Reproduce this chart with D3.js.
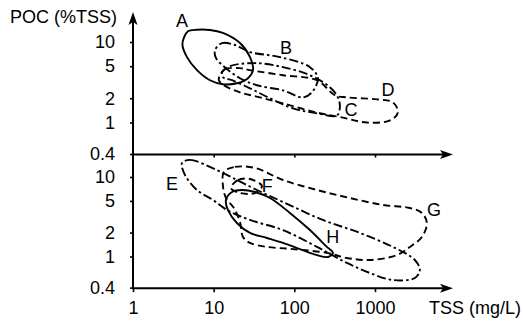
<!DOCTYPE html>
<html>
<head>
<meta charset="utf-8">
<script src="https://cdn.jsdelivr.net/npm/d3@7"></script>
<style>
  html, body { margin: 0; padding: 0; background: #fff; }
  svg { display: block; }
  text { font-family: "Liberation Sans", Arial, Helvetica, sans-serif; fill: #000; }
</style>
</head>
<body>
<svg id="chart" width="523" height="322"></svg>
<script>
// ---------- data (TSS mg/L, POC %TSS) ----------
const xTicks = [1, 10, 100, 1000];
const yTicks = [10, 5, 2, 1, 0.4];
const xTitle = "TSS (mg/L)";
const yTitle = "POC (%TSS)";

// top panel envelopes
const curveA = [[4.3,11.5],[4.8,13.6],[6.2,14.2],[9.0,14.1],[13.0,12.95],[21.2,9.7],[28.2,6.49],[30.7,4.47],[26.6,3.55],[19.4,3.07],[13.0,2.99],[9.0,3.35],[6.21,4.47],[4.67,6.49],[4.1,9.2]];
const curveB = [[10.4,7.94],[12.7,9.7],[18.4,9.17],[28.2,7.5],[66.4,6.49],[156,4.87],[196,3.55],[165,2.37],[128,2.05],[72.3,2.51],[34.4,2.9],[21.2,3.55],[14.2,4.73],[10.7,6.31]];
const curveC = [[12.7,4.22],[15.9,5.01],[34.4,5.46],[72.3,4.87],[156,3.87],[276,2.74],[347,2.05],[367,1.54],[337,1.22],[191,1.3],[96.1,1.5],[49.9,2.0],[28.2,2.66],[16.9,3.35],[13.0,3.65]];
const curveD = [[12.0,3.87],[13.8,4.6],[21.2,4.73],[28.2,4.47],[72.3,3.87],[191,3.35],[318,2.18],[449,2.05],[1055,1.94],[1667,1.78],[1922,1.33],[1531,1.06],[794,1.0],[400,1.15],[191,1.33],[72.3,1.73],[37.5,2.05],[21.2,2.37],[13.4,2.9],[11.6,3.35]];

// bottom panel envelopes
const curveE = [[4.05,15.0],[5.08,16.4],[11.0,12.2],[19.4,9.17],[34.4,6.86],[72.3,4.85],[226,2.88],[650,1.98],[1667,1.32],[3120,0.904],[3598,0.676],[3120,0.537],[1667,0.506],[865,0.62],[449,0.829],[191,1.32],[72.3,2.15],[28.2,2.88],[14.6,3.85],[9.8,5.14],[6.21,6.86],[4.41,10.6]];
const curveF = [[16.4,7.27],[20.0,9.17],[28.2,9.43],[39.7,7.7],[32.5,6.29],[21.2,6.29]];
const curveG = [[13.4,11.6],[18.4,13.4],[32.5,13.0],[72.3,9.17],[191,6.86],[489,5.44],[1253,4.45],[2707,4.07],[3811,3.53],[4395,2.64],[3811,1.76],[2707,1.32],[1868,1.04],[865,0.904],[449,0.958],[253,1.11],[96.1,1.24],[45.7,1.32],[28.2,1.48],[23.1,1.76],[21.2,2.72],[17.8,4.07],[14.2,5.44],[13.0,7.93]];
const curveH = [[14.2,5.14],[16.9,6.48],[22.4,6.86],[32.5,6.48],[49.9,5.44],[88.2,3.53],[156,2.15],[253,1.32],[301,1.11],[261,0.986],[191,1.04],[117,1.24],[72.3,1.48],[45.7,1.71],[28.2,1.98],[19.4,2.64],[15.0,3.85]];

// labels: [text, TSS, POC]
const labelsTop = [["A",4.05,18.2],["B",78.8,8.42],["C",504,1.43],["D",1450,2.55]];
const labelsBot = [["E",3.04,8.17],["F",46,7.8],["G",5385,3.85],["H",300,1.8]];

// ---------- drawing ----------
const svg = d3.select("#chart");
const x = d3.scaleLog().domain([1, 1000]).range([133, 375]);
const yTop = d3.scaleLog().domain([1, 10]).range([122.5, 42]);
const yBot = d3.scaleLog().domain([1, 10]).range([256.5, 177]);

const xAxisEnd = 453;
const yAxisTop = 12;
const topBase = yTop(0.4);
const botBase = yBot(0.4);

const styles = {
  solid: null,
  dash: "7,4",
  dashdot: "9,3,2.5,3"
};

function drawCurve(data, yScale, dash) {
  const line = d3.line()
    .x(d => x(d[0]))
    .y(d => yScale(d[1]))
    .curve(d3.curveCatmullRomClosed.alpha(0.5));
  svg.append("path")
    .attr("d", line(data))
    .attr("fill", "none")
    .attr("stroke", "#000")
    .attr("stroke-width", 1.9)
    .attr("stroke-linejoin", "round")
    .attr("stroke-dasharray", dash);
}

drawCurve(curveD, yTop, styles.dash);
drawCurve(curveC, yTop, styles.dashdot);
drawCurve(curveB, yTop, styles.dashdot);
drawCurve(curveA, yTop, styles.solid);

drawCurve(curveG, yBot, styles.dash);
drawCurve(curveF, yBot, styles.dash);
drawCurve(curveE, yBot, styles.dashdot);
drawCurve(curveH, yBot, styles.solid);

// y axes (ticks + labels)
const fmt = d => String(d);
function yAxis(scale) {
  const g = svg.append("g")
    .attr("transform", `translate(${x(1)},0)`)
    .call(d3.axisLeft(scale).tickValues(yTicks).tickFormat(fmt).tickSize(3).tickPadding(15));
  g.select(".domain").remove();
  g.selectAll(".tick line").attr("stroke", "#000").attr("stroke-width", 1.6);
  g.selectAll(".tick text").attr("font-size", 18).attr("fill", "#000")
    .attr("font-family", '"Liberation Sans", Arial, Helvetica, sans-serif');
  return g;
}
const gyt = yAxis(yTop);
gyt.selectAll(".tick").filter(d => d === 0.4).attr("transform", `translate(0,${topBase})`);
const gyb = yAxis(yBot);
gyb.selectAll(".tick").filter(d => d === 0.4).remove();
const g04 = svg.append("g");
g04.append("line").attr("x1", x(1) - 3).attr("x2", x(1)).attr("y1", botBase).attr("y2", botBase)
  .attr("stroke", "#000").attr("stroke-width", 1.6);
g04.append("text").attr("x", x(1) - 18).attr("y", botBase).attr("dy", "0.32em")
  .attr("text-anchor", "end").attr("font-size", 18).text("0.4");

// x axes
const gxm = svg.append("g")
  .attr("transform", `translate(0,${topBase})`)
  .call(d3.axisBottom(x).tickValues(xTicks.slice(1)).tickFormat("").tickSize(3));
gxm.select(".domain").remove();
gxm.selectAll(".tick line").attr("stroke", "#000").attr("stroke-width", 1.6);

const gxb = svg.append("g")
  .attr("transform", `translate(0,${botBase})`)
  .call(d3.axisBottom(x).tickValues(xTicks).tickFormat(fmt).tickSize(4).tickPadding(9));
gxb.select(".domain").remove();
gxb.selectAll(".tick line").attr("stroke", "#000").attr("stroke-width", 1.6);
gxb.selectAll(".tick text").attr("font-size", 18).attr("fill", "#000")
  .attr("font-family", '"Liberation Sans", Arial, Helvetica, sans-serif');

// axis lines with arrowheads
const ax = svg.append("g").attr("stroke", "#000").attr("stroke-width", 2);
ax.append("line").attr("x1", x(1)).attr("x2", x(1)).attr("y1", botBase + 1).attr("y2", yAxisTop + 8);
ax.append("line").attr("x1", x(1)).attr("x2", xAxisEnd - 8).attr("y1", topBase).attr("y2", topBase);
ax.append("line").attr("x1", x(1)).attr("x2", xAxisEnd - 8).attr("y1", botBase).attr("y2", botBase);

function arrowHead(tx, ty, dir) {
  let pts;
  if (dir === "up") pts = [[tx, ty], [tx - 4.5, ty + 13], [tx, ty + 10], [tx + 4.5, ty + 13]];
  else pts = [[tx, ty], [tx - 13, ty - 4.5], [tx - 10, ty], [tx - 13, ty + 4.5]];
  svg.append("path").attr("d", "M" + pts.map(p => p.join(",")).join("L") + "Z").attr("fill", "#000");
}
arrowHead(x(1), yAxisTop, "up");
arrowHead(xAxisEnd, topBase, "right");
arrowHead(xAxisEnd, botBase, "right");

// titles
svg.append("text").attr("x", 117).attr("y", 23).attr("text-anchor", "end").attr("font-size", 18).text(yTitle);
svg.append("text").attr("x", 429).attr("y", 314).attr("font-size", 18).text(xTitle);

// curve labels
labelsTop.forEach(l => svg.append("text").attr("x", x(l[1])).attr("y", yTop(l[2])).attr("dy", "0.35em")
  .attr("text-anchor", "middle").attr("font-size", 18).text(l[0]));
labelsBot.forEach(l => svg.append("text").attr("x", x(l[1])).attr("y", yBot(l[2])).attr("dy", "0.35em")
  .attr("text-anchor", "middle").attr("font-size", 18).text(l[0]));
</script>
</body>
</html>
